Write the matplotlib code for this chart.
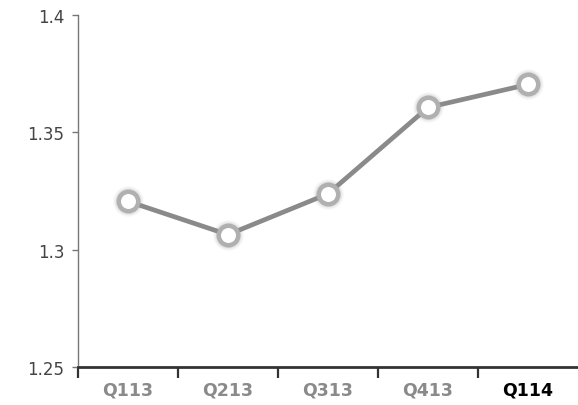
import matplotlib
matplotlib.use("Agg")
import matplotlib.pyplot as plt

quarters = ["Q113", "Q213", "Q313", "Q413", "Q114"]
values = [1.3206, 1.3064, 1.3238, 1.3606, 1.3704]
y_ticks = [1.25, 1.3, 1.35, 1.4]
y_labels = ["1.25", "1.3", "1.35", "1.4"]

fig = plt.figure(figsize=(5.78, 4.06), dpi=100)
ax = fig.add_axes([0.135, 0.0936, 0.865, 0.867])

x = list(range(len(quarters)))

ax.plot(x, values, color="#8a8a8a", lw=3.4, solid_capstyle="round", zorder=2)
# soft shadow around markers
for ms, a in [(22, 0.08), (20, 0.12), (18, 0.18)]:
    ax.plot(x, values, ls="none", marker="o", ms=ms, mfc="#9a9a9a", mec="none",
            alpha=a, zorder=3)
ax.plot(x, values, ls="none", marker="o", ms=14, mfc="white", mec="#b0b0b0",
        mew=3.2, zorder=4)

ax.set_xlim(-0.5, 4.5)
ax.set_ylim(1.25, 1.4)

ax.set_yticks(y_ticks)
ax.set_yticklabels(y_labels)
ax.tick_params(axis="y", length=4, width=1, color="#777777", pad=6,
               labelsize=12, labelcolor="#444444")

ax.set_xticks(x)
ax.set_xticklabels(quarters, fontweight="bold")
ax.set_xticks([-0.5, 0.5, 1.5, 2.5, 3.5], minor=True)
ax.tick_params(axis="x", which="major", length=0, pad=10, labelsize=12.5,
               labelcolor="#8a8a8a")
ax.tick_params(axis="x", which="minor", length=8, width=1.6, color="#333333",
               direction="out")
ax.get_xticklabels()[-1].set_color("black")

for side in ["top", "right"]:
    ax.spines[side].set_visible(False)
ax.spines["left"].set_color("#777777")
ax.spines["left"].set_linewidth(1)
ax.spines["bottom"].set_color("#333333")
ax.spines["bottom"].set_linewidth(2)

fig.savefig("out.png", dpi=100)
